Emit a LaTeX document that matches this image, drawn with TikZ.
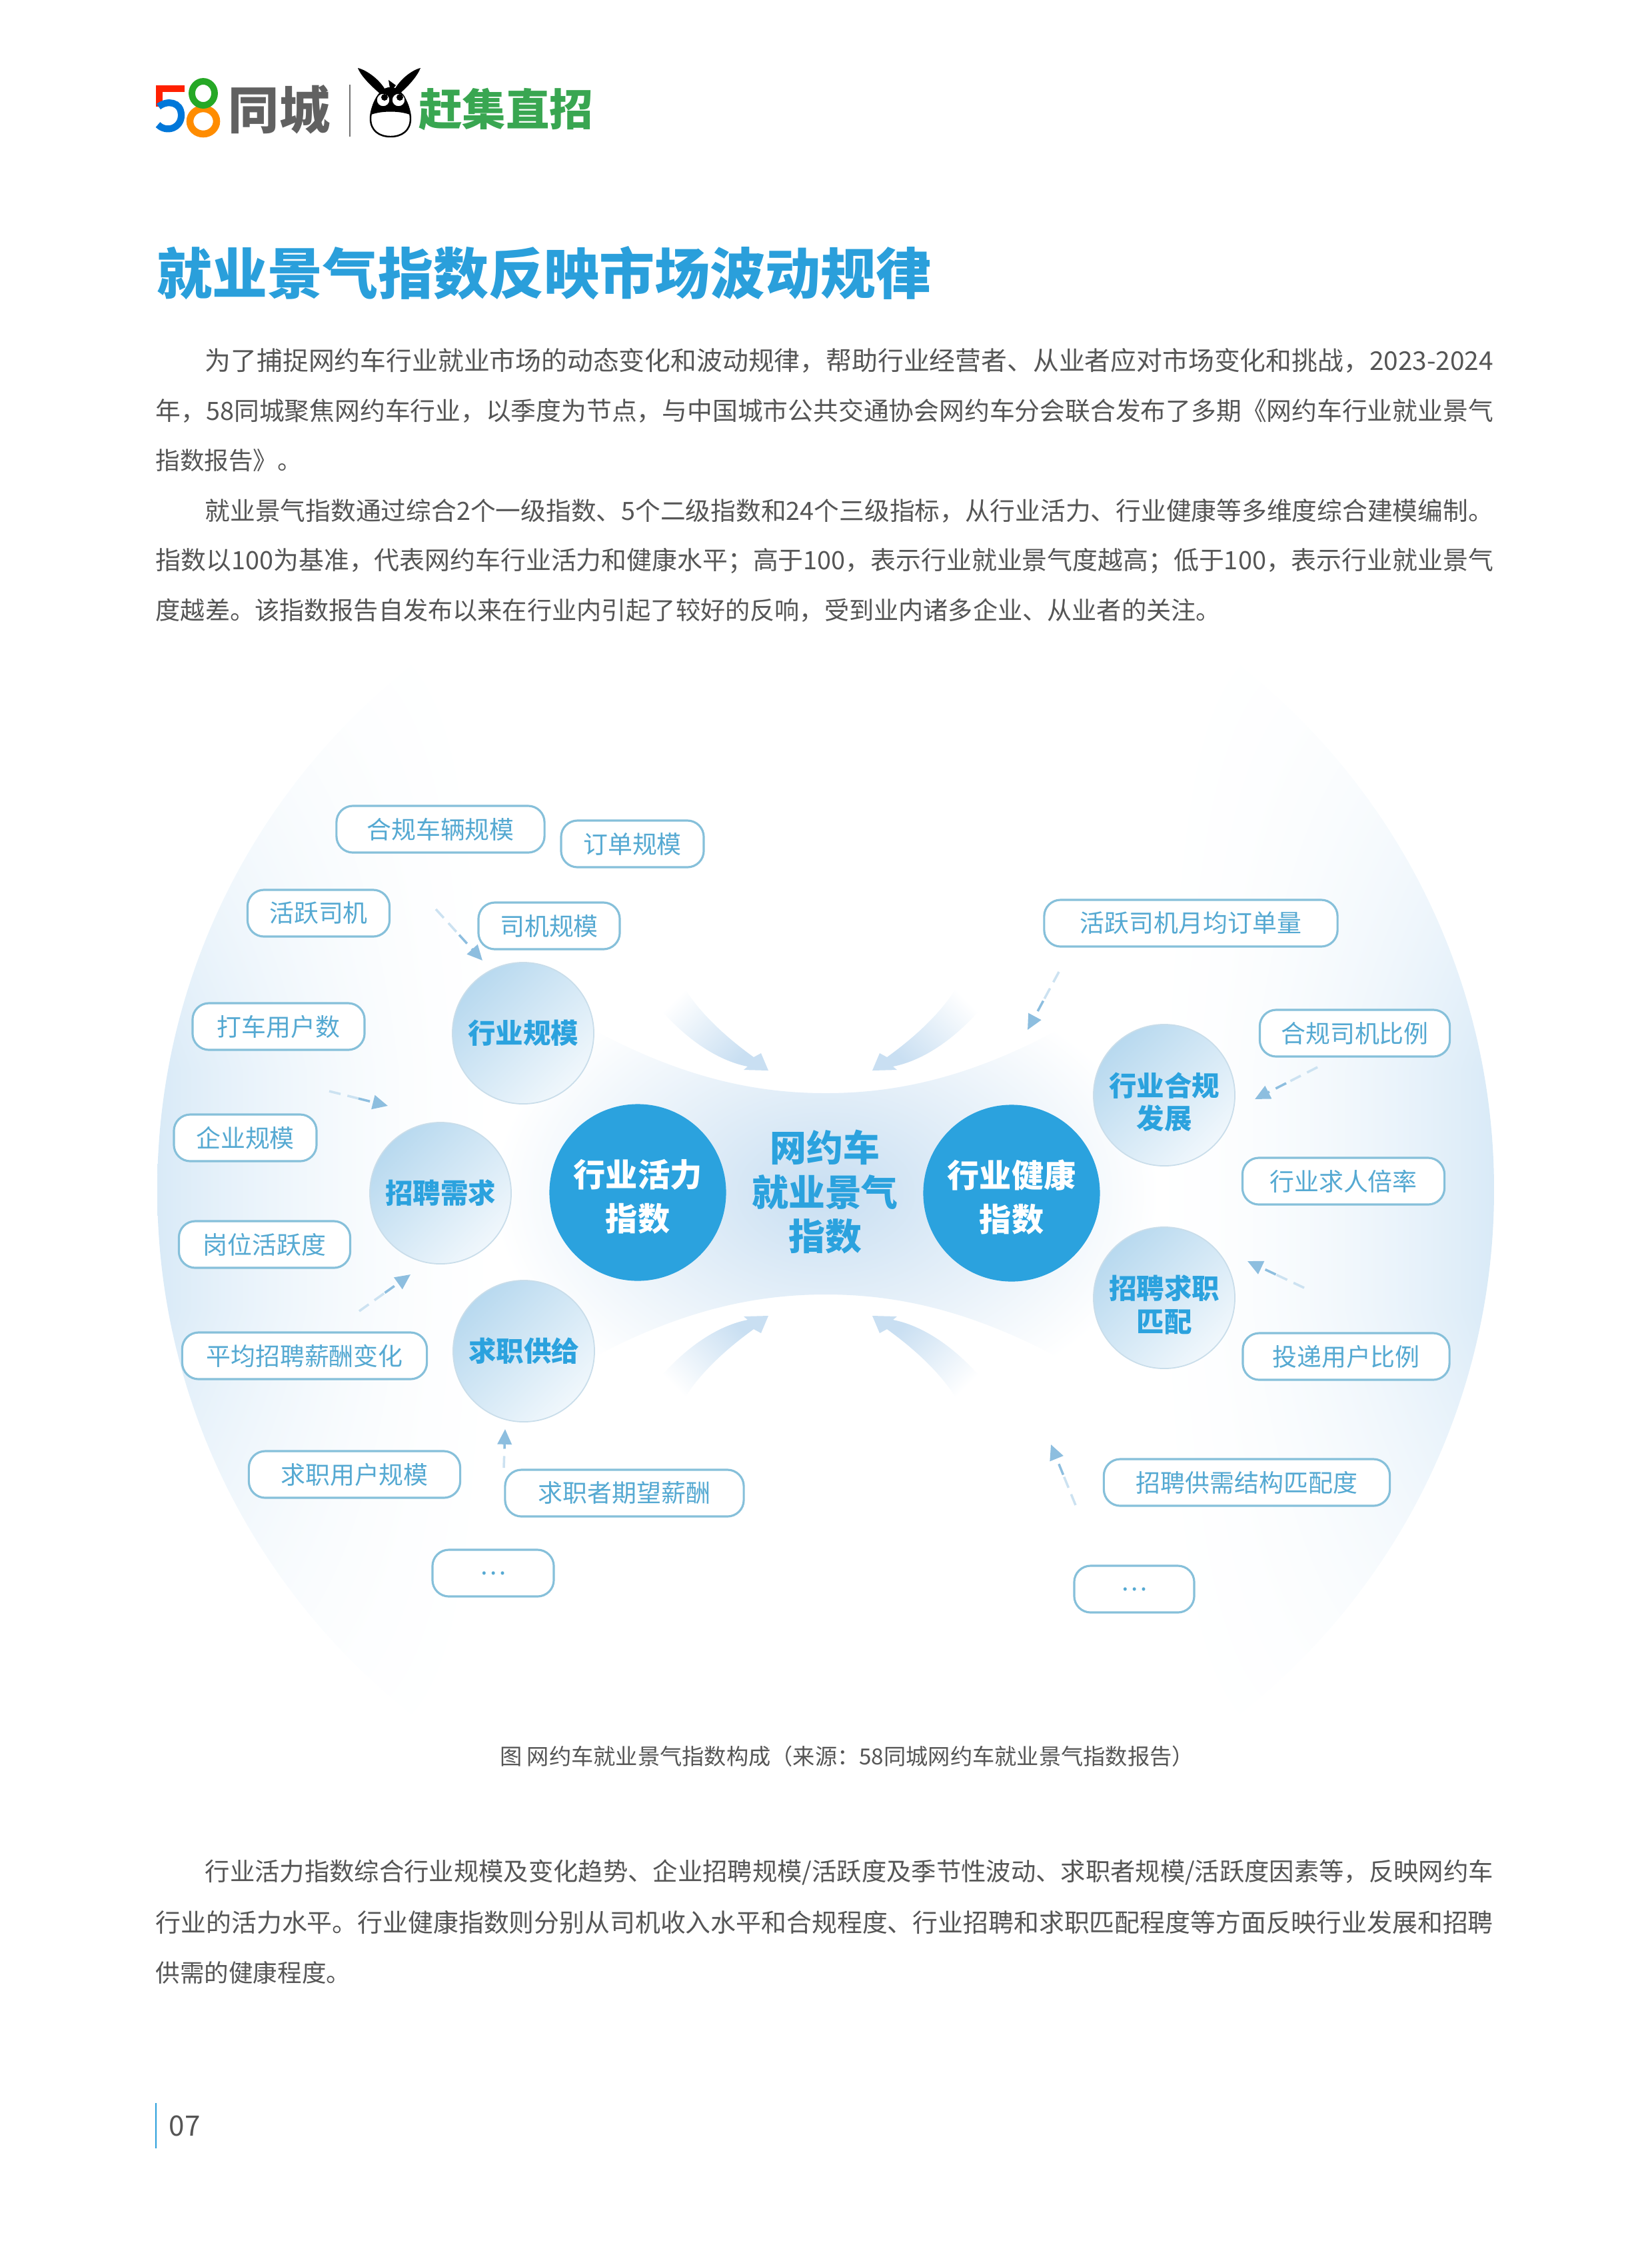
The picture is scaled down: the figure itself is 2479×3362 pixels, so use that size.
\documentclass[tikz,border=0pt]{standalone}
\usepackage{fontspec}
\setmainfont{Noto Sans CJK SC}
\usetikzlibrary{arrows.meta,calc}

\definecolor{titleblue}{HTML}{2A9FDB}
\definecolor{indexblue}{HTML}{2BA2DE}
\definecolor{bodygrey}{HTML}{555555}
\definecolor{boxedge}{HTML}{86C0DA}
\definecolor{boxtext}{HTML}{55A9D2}
\definecolor{arrowblue}{HTML}{8DBEDF}
\definecolor{swooshblue}{HTML}{C9DFF2}
\definecolor{circledark}{HTML}{B8D9EF}
\definecolor{circlelight}{HTML}{F0F7FC}
\definecolor{circleedge}{HTML}{C9DDEA}
\definecolor{logogreen}{HTML}{39A651}

\newcommand{\fitline}[2]{\resizebox{#1cm}{!}{#2}}
\newcommand{\toppad}[1]{\rule{0pt}{#1pt}}

% blue at the sides of the disc, dying out towards top and bottom
\pgfdeclarefunctionalshading{discshade}{\pgfpointorigin}{\pgfpoint{100bp}{100bp}}{}{
  50 sub 25 div abs 1 exch sub
  0.12 sub 0.7 div dup 0 lt {pop 0} if dup 1 gt {pop 1} if
  exch 50 sub 25 div abs
  0.45 sub 0.55 div dup 0 lt {pop 0} if
  dup mul mul
  dup 0.15 mul 1 exch sub exch
  dup 0.083 mul 1 exch sub exch
  0.031 mul 1 exch sub
}
\pgfdeclarehorizontalshading{swooshshade}{100bp}{color(0bp)=(white); color(30bp)=(white);
  color(72bp)=(swooshblue); color(100bp)=(swooshblue)}

\tikzset{
  bodytext/.style={anchor=west,inner sep=0pt,text=bodygrey,font=\fontsize{10.4}{12}\selectfont},
  kpibox/.style={draw=boxedge,line width=0.9pt,fill=white,rounded corners=7pt,minimum height=0.7cm,
    inner sep=0pt,text=boxtext,font=\fontsize{10.5}{12}\selectfont},
  subcircle/.style={circle,draw=circleedge,line width=0.5pt,minimum size=2.12cm,inner sep=0pt,
    left color=circledark,right color=circlelight,shading angle=45,align=center,
    text=indexblue,font=\fontsize{11.8}{14.2}\selectfont\bfseries},
  indexcircle/.style={circle,fill=indexblue,minimum size=2.65cm,inner sep=0pt,align=center,
    text=white,font=\fontsize{13.7}{18.8}\selectfont\bfseries},
  flowarrow/.style={draw=arrowblue,line width=1pt,dash pattern=on 5pt off 3pt,
    -{Triangle[length=6.5pt,width=6pt,fill=arrowblue]}},
  flowtail/.style={draw=arrowblue!45,line width=1pt,dash pattern=on 5pt off 3pt}
}

\begin{document}
\begin{tikzpicture}[x=0.01cm,y=-0.01cm]
  \useasboundingbox (0,0) rectangle (2479,3362);

  % disc behind the diagram
  \shade [shading=discshade] (1239,1785) circle (1003);
  \shade [inner color=swooshblue,outer color=white] (739,1450) .. controls (950,1600) and (1100,1640) .. (1239,1640)
    .. controls (1378,1640) and (1528,1600) .. (1739,1450) -- (1739,2130)
    .. controls (1528,1982) and (1378,1942) .. (1239,1942) .. controls (1100,1942) and (950,1982) .. (739,2130) -- cycle;
  \foreach \sx/\sy/\ang in {1/1/-45,-1/1/-135,1/-1/45,-1/-1/135}
  {
    \begin{scope}[shift={(1231,1790)},xscale=\sx,yscale=\sy]
      \shade [shading=swooshshade,shading angle=\ang] (-78,-184) -- (-89,-210) -- (-100,-204)
        .. controls (-150,-240) and (-190,-280) .. (-211,-320) -- (-259,-300)
        .. controls (-215,-240) and (-160,-200) .. (-109,-190) -- (-115,-185) -- cycle;
    \end{scope}
  }

  % logo
  \draw [red!75!orange,line width=2.7pt] (277,133) -- (239,133) -- (239,160);
  \draw [blue!45!cyan!85!black,line width=2.9pt] (238,160) .. controls (250,150) and (272,152) .. (272,173)
    .. controls (272,192) and (250,200) .. (237,187);
  \draw [orange!90!yellow,line width=3pt] (305,182) ellipse (20 and 19);
  \draw [green!60!black!85,line width=2.8pt] (305,140) ellipse (17 and 18);
  \node [inner sep=0pt,text=black!62,font=\fontsize{21.7}{24}\selectfont\bfseries] (logoname) at (419,164) {同城};
  \draw [black!55,line width=0.4pt] (525,127) -- (525,205);
  \fill [black] (537,102) .. controls (550,105) and (572,120) .. (581,140) -- (572,142)
    .. controls (558,130) and (542,115) .. (537,102) -- cycle;
  \fill [black] (631,102) .. controls (618,105) and (598,120) .. (589,140) -- (598,142)
    .. controls (612,130) and (626,115) .. (631,102) -- cycle;
  \fill [black] (583,120) -- (594,128) -- (586,138) -- cycle;
  \draw [black,line width=0.7pt,fill=white] (586,132) .. controls (606,132) and (616,165) .. (616,178)
    .. controls (616,196) and (603,205) .. (586,205) .. controls (569,205) and (556,196) .. (556,178)
    .. controls (556,165) and (566,132) .. (586,132) -- cycle;
  \fill [black] (586,132) .. controls (603,132) and (611,155) .. (615,172)
    .. controls (600,166) and (572,166) .. (557,172) .. controls (561,155) and (569,132) .. (586,132) -- cycle;
  \filldraw [fill=white,draw=black] (575,150) circle (10) (598,150) circle (10);
  \fill [black] (577,146) circle (5) (600,146) circle (5);
  \node [inner sep=0pt,text=logogreen,font=\fontsize{18.6}{22}\selectfont\bfseries] (logotag) at (759,164) {赶集直招};

  % heading and text
  \node [anchor=west,inner sep=0pt,text=titleblue,font=\fontsize{23.6}{28}\selectfont\bfseries] (heading) at (235,410)
    {就业景气指数反映市场波动规律};
  \node [bodytext] (parta) at (307,541) {\fitline{19.32}{为了捕捉网约车行业就业市场的动态变化和波动规律，帮助行业经营者、从业者应对市场变化和挑战，2023-2024}};
  \node [bodytext] (partb) at (233,616) {\fitline{20.06}{年，58同城聚焦网约车行业，以季度为节点，与中国城市公共交通协会网约车分会联合发布了多期《网约车行业就业景气}};
  \node [bodytext] (partc) at (233,691) {指数报告》。};
  \node [bodytext] (partd) at (307,766) {\fitline{19.32}{就业景气指数通过综合2个一级指数、5个二级指数和24个三级指标，从行业活力、行业健康等多维度综合建模编制。}};
  \node [bodytext] (parte) at (233,841) {\fitline{20.06}{指数以100为基准，代表网约车行业活力和健康水平；高于100，表示行业就业景气度越高；低于100，表示行业就业景气}};
  \node [bodytext] (partf) at (233,916) {\fitline{15.97}{度越差。该指数报告自发布以来在行业内引起了较好的反响，受到业内诸多企业、从业者的关注。}};

  % index circles
  \node [inner sep=0pt,align=center,text=indexblue,font=\fontsize{15.6}{18.8}\selectfont\bfseries] (market) at (1238,1788) {网约车\\就业景气\\指数};
  \node [indexcircle] (vitality) at (957,1789) {\toppad{15.5}行业活力\\指数};
  \node [indexcircle] (health) at (1518,1790) {\toppad{15.5}行业健康\\指数};

  \node [subcircle] (scale) at (785,1550) {行业规模};
  \node [subcircle] (demand) at (661,1790) {招聘需求};
  \node [subcircle] (supply) at (786,2027) {求职供给};
  \node [subcircle] (comply) at (1747,1643) {\toppad{16}行业合规\\发展};
  \node [subcircle] (match) at (1747,1947) {\toppad{16}招聘求职\\匹配};

  % left boxes
  \node [kpibox,minimum width=3.12cm] (fleet) at (661,1244) {合规车辆规模};
  \node [kpibox,minimum width=2.14cm] (orders) at (949,1266) {订单规模};
  \node [kpibox,minimum width=2.13cm] (active) at (478,1370) {活跃司机};
  \node [kpibox,minimum width=2.12cm] (drivers) at (824,1389) {司机规模};
  \node [kpibox,minimum width=2.58cm] (riders) at (418,1540) {打车用户数};
  \node [kpibox,minimum width=2.14cm] (firms) at (368,1707) {企业规模};
  \node [kpibox,minimum width=2.57cm] (posts) at (397,1867) {岗位活跃度};
  \node [kpibox,minimum width=3.67cm] (salary) at (457,2034) {平均招聘薪酬变化};
  \node [kpibox,minimum width=3.17cm] (seekers) at (532,2212) {求职用户规模};
  \node [kpibox,minimum width=3.58cm] (expect) at (937,2240) {求职者期望薪酬};
  \node [kpibox,minimum width=1.82cm] (moreleft) at (740,2360) {…};

  % right boxes
  \node [kpibox,minimum width=4.40cm] (monthly) at (1787,1385) {活跃司机月均订单量};
  \node [kpibox,minimum width=2.85cm] (ratio) at (2033,1550) {合规司机比例};
  \node [kpibox,minimum width=3.03cm] (hiring) at (2016,1772) {行业求人倍率};
  \node [kpibox,minimum width=3.10cm] (applied) at (2020,2035) {投递用户比例};
  \node [kpibox,minimum width=4.29cm] (fit) at (1871,2224) {招聘供需结构匹配度};
  \node [kpibox,minimum width=1.80cm] (moreright) at (1702,2384) {…};

  % dashed arrows
  \foreach \n/\ax/\ay/\bx/\by in {a/654/1364/724/1441,b/494/1637/582/1659,c/539/1967/616/1912,d/756/2202/758/2144,
    e/1589/1458/1542/1545,f/1977/1601/1883/1649,g/1957/1932/1872/1892,h/1614/2258/1577/2167}
  {
    \coordinate (from\n) at (\ax,\ay);
    \coordinate (to\n) at (\bx,\by);
    \coordinate (via\n) at ($(from\n)!0.5!(to\n)$);
    \draw [flowtail] (from\n) -- (via\n);
    \draw [flowarrow] (via\n) -- (to\n);
  }

  % caption and closing text
  \node [inner sep=0pt,text=bodygrey,font=\fontsize{9.2}{11}\selectfont] (caption) at (1271,2635) {\fitline{10.41}{图 网约车就业景气指数构成（来源：58同城网约车就业景气指数报告）}};
  \node [bodytext] (partg) at (307,2809) {\fitline{19.32}{行业活力指数综合行业规模及变化趋势、企业招聘规模/活跃度及季节性波动、求职者规模/活跃度因素等，反映网约车}};
  \node [bodytext] (parth) at (233,2884) {\fitline{20.06}{行业的活力水平。行业健康指数则分别从司机收入水平和合规程度、行业招聘和求职匹配程度等方面反映行业发展和招聘}};
  \node [bodytext] (parti) at (233,2959) {供需的健康程度。};

  % page number
  \draw [titleblue,line width=0.7pt] (234,3155) -- (234,3223);
  \node [anchor=west,inner sep=0pt,text=bodygrey,font=\fontsize{12}{14}\selectfont] (pageno) at (253,3189) {07};
\end{tikzpicture}
\end{document}
